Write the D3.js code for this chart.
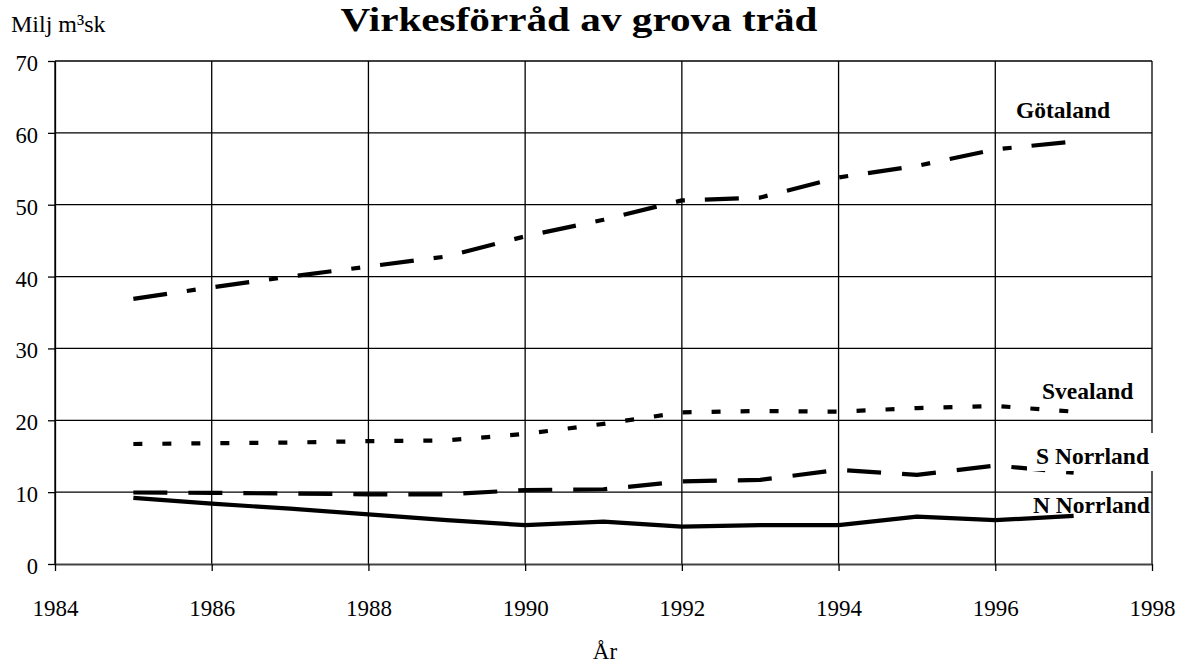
<!DOCTYPE html>
<html>
<head>
<meta charset="utf-8">
<script src="https://cdn.jsdelivr.net/npm/d3@7/dist/d3.min.js"></script>
<style>
  html, body { margin: 0; padding: 0; background: #fff; }
  svg { display: block; font-family: "Liberation Serif", "Times New Roman", serif; }
</style>
</head>
<body>
<svg id="chart" width="1179" height="664"></svg>
<script>
// ---- data ----
const years = [1985, 1986, 1987, 1988, 1989, 1990, 1991, 1992, 1993, 1994, 1995, 1996, 1997];
const gotaland  = [36.9, 38.5, 40.0, 41.4, 42.8, 45.6, 47.9, 50.6, 51.0, 53.8, 55.4, 57.7, 58.8];
const svealand  = [16.7, 16.8, 16.9, 17.1, 17.2, 18.1, 19.5, 21.1, 21.3, 21.2, 21.7, 22.0, 21.2];
const sNorrland = [9.95, 9.9, 9.8, 9.7, 9.7, 10.3, 10.4, 11.5, 11.7, 13.1, 12.4, 13.7, 12.7];
const nNorrland = [9.2, 8.4, 7.7, 6.9, 6.1, 5.4, 5.9, 5.2, 5.4, 5.4, 6.6, 6.1, 6.7];
const seriesNames = ["Götaland", "Svealand", "S Norrland", "N Norrland"];
const xTicks = [1984, 1986, 1988, 1990, 1992, 1994, 1996, 1998];
const yTicks = [0, 10, 20, 30, 40, 50, 60, 70];
const chartTitle = "Virkesförråd av grova träd";
const yTitle = "Milj m³sk";
const xTitle = "År";

// ---- layout ----
const svg = d3.select("#chart");
const mLeft = 55, mRight = 1152, mTop = 61, mBottom = 564;
const x = d3.scaleLinear().domain([1984, 1998]).range([mLeft, mRight]);
const y = d3.scaleLinear().domain([0, 70]).range([mBottom, mTop]);

// grid
const g = svg.append("g");
g.selectAll("line.hg").data(yTicks.filter(d => d > 0)).join("line")
  .attr("x1", mLeft).attr("x2", mRight)
  .attr("y1", d => y(d)).attr("y2", d => y(d))
  .attr("stroke", "#000").attr("stroke-width", 1.3);
g.selectAll("line.vg").data(xTicks).join("line")
  .attr("x1", d => x(d)).attr("x2", d => x(d))
  .attr("y1", mTop).attr("y2", mBottom)
  .attr("stroke", "#000").attr("stroke-width", 1.3);

// axes
const yAxis = d3.axisLeft(y).tickValues(yTicks).tickSize(7).tickSizeOuter(0).tickPadding(10);
const yg = svg.append("g").attr("transform", `translate(${mLeft},0)`).call(yAxis);
yg.select(".domain").attr("stroke", "#000").attr("stroke-width", 1.3);
yg.selectAll(".tick line").attr("stroke", "#000").attr("stroke-width", 1.3);
yg.selectAll(".tick text").attr("font-size", 22.5).attr("font-family", "Liberation Serif, serif")
  .attr("fill", "#000").attr("dy", "0.42em");

const xAxis = d3.axisBottom(x).tickValues(xTicks).tickFormat(d3.format("d")).tickSize(7).tickSizeOuter(0).tickPadding(29);
const xg = svg.append("g").attr("transform", `translate(0,${mBottom})`).call(xAxis);
xg.select(".domain").attr("stroke", "#444").attr("stroke-width", 2);
xg.selectAll(".tick line").attr("stroke", "#000").attr("stroke-width", 1.3);
xg.selectAll(".tick text").attr("font-size", 23).attr("font-family", "Liberation Serif, serif")
  .attr("fill", "#000");

// series
const series = [
  { name: seriesNames[0], values: gotaland,  dash: "34,20,9,20" },
  { name: seriesNames[1], values: svealand,  dash: "9,20" },
  { name: seriesNames[2], values: sNorrland, dash: "34,21" },
  { name: seriesNames[3], values: nNorrland, dash: null }
];
const line = d3.line().x((d, i) => x(years[i])).y(d => y(d));
svg.append("g").selectAll("path").data(series).join("path")
  .attr("d", d => line(d.values))
  .attr("fill", "none").attr("stroke", "#000").attr("stroke-width", 4.2)
  .attr("stroke-linecap", "butt").attr("stroke-linejoin", "round")
  .attr("stroke-dasharray", d => d.dash);

// labels
const labels = [
  { name: seriesNames[0], x: 1016, y: 118, box: false },
  { name: seriesNames[1], x: 1042, y: 399, box: false },
  { name: seriesNames[2], x: 1036, y: 464, box: true },
  { name: seriesNames[3], x: 1033, y: 513, box: false }
];
const lg = svg.append("g");
labels.forEach(l => {
  if (l.box) {
    lg.append("rect").attr("x", l.x - 9).attr("y", l.y - 31).attr("width", 135).attr("height", 38).attr("fill", "#fff");
  }
  lg.append("text").attr("x", l.x).attr("y", l.y).attr("font-size", 23.5).attr("font-weight", "bold")
    .attr("fill", "#000").text(l.name);
});

// titles
svg.append("text").attr("x", 579).attr("y", 31).attr("text-anchor", "middle")
  .attr("font-size", 34).attr("font-weight", "bold").attr("fill", "#000")
  .attr("textLength", 477).attr("lengthAdjust", "spacingAndGlyphs").text(chartTitle);
svg.append("text").attr("x", 11).attr("y", 32).attr("font-size", 24).attr("fill", "#000").text(yTitle);
svg.append("text").attr("x", 605).attr("y", 659).attr("text-anchor", "middle")
  .attr("font-size", 23).attr("fill", "#000").text(xTitle);
</script>
</body>
</html>
